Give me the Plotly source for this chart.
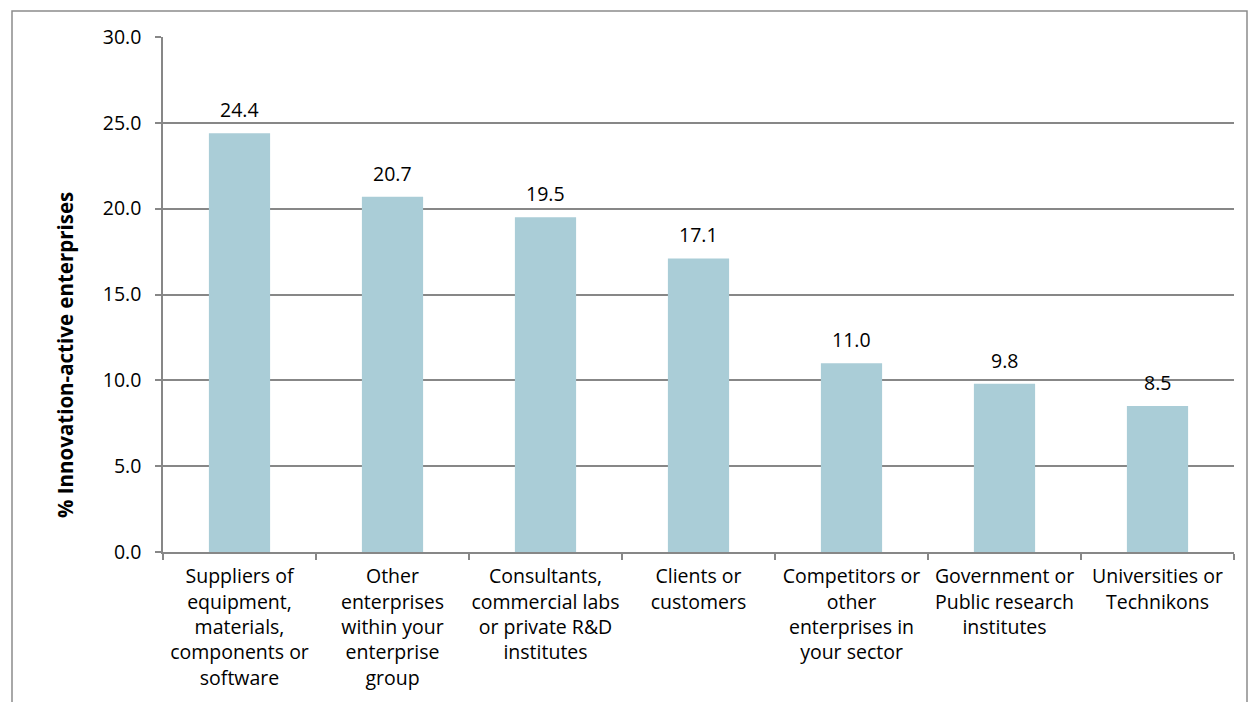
import plotly.graph_objects as go

# Sources of information for innovation
categories = [
    "Suppliers of<br>equipment,<br>materials,<br>components or<br>software",
    "Other<br>enterprises<br>within your<br>enterprise<br>group",
    "Consultants,<br>commercial labs<br>or private R&D<br>institutes",
    "Clients or<br>customers",
    "Competitors or<br>other<br>enterprises in<br>your sector",
    "Government or<br>Public research<br>institutes",
    "Universities or<br>Technikons",
]
values = [24.4, 20.7, 19.5, 17.1, 11.0, 9.8, 8.5]
y_ticks = [0, 5, 10, 15, 20, 25, 30]
y_title = "% Innovation-active enterprises"

FONT = "Open Sans"
FONT_SIZE = 19.5
AXIS_GRAY = "#878787"

# plot-area geometry in pixels
W, H = 1249, 702
L, R, T, B = 163, 15, 37, 150
PW, PH = W - L - R, H - T - B


def px_x(px):
    return (px - L) / PW


def px_y(py):
    return (H - B - py) / PH


fig = go.Figure(
    go.Bar(
        x=categories,
        y=values,
        width=0.4,
        marker=dict(color="#AACDD7", line=dict(width=0)),
        hoverinfo="x+y",
    )
)

# value labels above each bar
for c, v in zip(categories, values):
    fig.add_annotation(
        x=c,
        y=v,
        text=f"{v:.1f}",
        showarrow=False,
        yanchor="bottom",
        yshift=8,
        font=dict(family=FONT, size=FONT_SIZE, color="#000000"),
    )

# vertical axis title
fig.add_annotation(
    xref="paper",
    yref="paper",
    x=px_x(65),
    y=px_y(355),
    xanchor="center",
    yanchor="middle",
    text=f"<b>{y_title}</b>",
    textangle=-90,
    showarrow=False,
    font=dict(family=FONT, size=20.5, color="#000000"),
)

fig.update_layout(
    width=W,
    height=H,
    margin=dict(l=L, r=R, t=T, b=B, autoexpand=False),
    paper_bgcolor="white",
    plot_bgcolor="white",
    showlegend=False,
    font=dict(family=FONT, size=FONT_SIZE, color="#000000"),
    xaxis=dict(
        type="category",
        tickson="boundaries",
        tickangle=0,
        automargin=False,
        ticks="outside",
        ticklen=6,
        tickwidth=1.5,
        tickcolor=AXIS_GRAY,
        showline=True,
        linecolor=AXIS_GRAY,
        linewidth=1.5,
        showgrid=False,
        tickfont=dict(family=FONT, size=FONT_SIZE),
        ticklabelstandoff=6,
    ),
    yaxis=dict(
        range=[0, 30],
        automargin=False,
        tickvals=y_ticks,
        ticktext=[f"{t:.1f}" for t in y_ticks],
        ticks="outside",
        ticklen=6,
        tickwidth=1.5,
        tickcolor=AXIS_GRAY,
        showline=True,
        linecolor=AXIS_GRAY,
        linewidth=1.5,
        showgrid=True,
        gridcolor=AXIS_GRAY,
        gridwidth=1.5,
        zeroline=False,
        tickfont=dict(family=FONT, size=FONT_SIZE),
        ticklabelstandoff=10,
    ),
    shapes=[
        # chart frame
        dict(
            type="rect",
            xref="paper",
            yref="paper",
            x0=px_x(12),
            x1=px_x(1247),
            y0=px_y(720),
            y1=px_y(11),
            line=dict(color="#8C8C8C", width=1.5),
            fillcolor="rgba(0,0,0,0)",
            layer="below",
        )
    ],
)

fig.write_html("out.html")
